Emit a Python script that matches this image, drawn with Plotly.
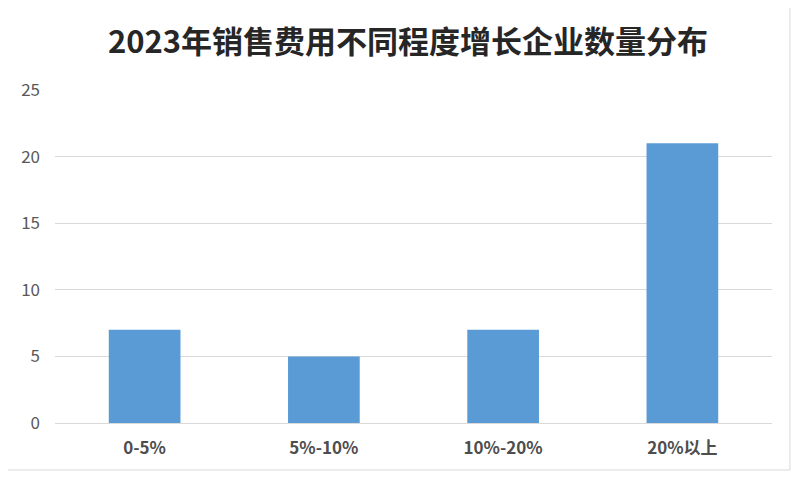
import plotly.graph_objects as go

# growth bands and number of companies in each
categories = ["0-5%", "5%-10%", "10%-20%", "20%以上"]
companies = [7, 5, 7, 21]
y_ticks = [0, 5, 10, 15, 20, 25]

fig = go.Figure()
fig.add_trace(go.Bar(x=categories, y=companies, marker_color="#5B9BD5",
                     marker_line_width=0))

fig.update_layout(
    width=800, height=484,
    margin=dict(l=47, r=36, t=82, b=69),
    paper_bgcolor="white", plot_bgcolor="white",
    bargap=0.6,
    showlegend=False,
    font=dict(family="Noto Sans CJK SC", color="#595959"),
    title=dict(text="<b>2023年销售费用不同程度增长企业数量分布</b>",
               x=0.5, xanchor="center", y=0.93, yanchor="middle",
               font=dict(size=31, color="#262626")),
    shapes=[dict(type="rect", xref="paper", yref="paper",
                 x0=-0.0725, x1=1.025, y0=-0.141, y1=1.261,
                 line=dict(color="#D9D9D9", width=1))],
)
fig.update_xaxes(showgrid=False, showline=True, linecolor="#D9D9D9",
                 ticks="", tickfont=dict(size=17, color="#4D4D4D",
                                         weight="bold"),
                 ticklabelstandoff=10)
fig.update_yaxes(range=[0, 25], tickvals=y_ticks, showgrid=True,
                 gridcolor="#D9D9D9", zeroline=False, showline=False,
                 tickfont=dict(size=17, color="#595959"),
                 ticklabelstandoff=14)

fig.write_html("out.html")
